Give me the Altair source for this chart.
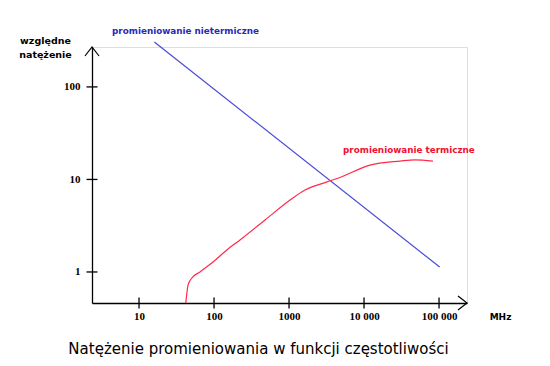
import altair as alt
import pandas as pd

# Data (log-log chart)
nonthermal_mhz = [16, 102000]
nonthermal_int = [306, 1.13]

thermal_mhz = [42, 45, 50, 65, 97, 148, 222, 479, 1032, 1634, 3210, 4790, 12000, 30200, 47900, 83000]
thermal_int = [0.46, 0.72, 0.85, 1.0, 1.28, 1.73, 2.22, 3.65, 6.0, 7.7, 9.4, 10.5, 14.3, 15.8, 16.3, 15.8]

x_ticks = [10, 100, 1000, 10000, 100000]
y_ticks = [1, 10, 100]

labels = ["promieniowanie nietermiczne", "promieniowanie termiczne"]
label_colors = ["#2a2ab4", "#f01030"]
label_mhz = [4.37, 5250]
label_int = [400, 20.8]

X_DOMAIN = [2.36, 236000]
Y_DOMAIN = [0.462, 270]

x_scale = alt.Scale(type="log", domain=X_DOMAIN, nice=False)
y_scale = alt.Scale(type="log", domain=Y_DOMAIN, nice=False)

x_axis = alt.Axis(
    values=x_ticks,
    labelExpr="datum.value >= 10000 ? replace(format(datum.value, ','), ',', ' ') : format(datum.value, 'd')",
    ticks=False, tickSize=0, grid=False,
    domainColor="black", domainWidth=1.3,
    labelFont="Liberation Serif", labelFontWeight="bold", labelFontSize=11,
    labelColor="black", labelPadding=7, labelFlush=False, labelOverlap=False,
    title="MHz", titleFont="DejaVu Sans", titleFontWeight="bold", titleFontSize=9,
    titleColor="black", titleX=408, titleY=13, titleAlign="center", titleBaseline="middle",
)
y_axis = alt.Axis(
    values=y_ticks,
    format="d",
    ticks=False, tickSize=0, grid=False,
    domainColor="black", domainWidth=1.3,
    labelFont="Liberation Serif", labelFontWeight="bold", labelFontSize=11,
    labelColor="black", labelPadding=12, labelFlush=False, labelOverlap=False,
    title=["względne", "natężenie"], titleFont="DejaVu Sans", titleFontWeight="bold",
    titleFontSize=9.5, titleColor="black", titleAngle=0, titleX=-47, titleY=-4,
    titleAlign="center", titleBaseline="alphabetic", titleLineHeight=14,
)

X = lambda f: alt.X(f, type="quantitative", scale=x_scale, axis=x_axis)
Y = lambda f: alt.Y(f, type="quantitative", scale=y_scale, axis=y_axis)

df_non = pd.DataFrame({"mhz": nonthermal_mhz, "val": nonthermal_int})
df_th = pd.DataFrame({"mhz": thermal_mhz, "val": thermal_int})

line_non = alt.Chart(df_non).mark_line(color="#4a4ad8", strokeWidth=1.2).encode(x=X("mhz"), y=Y("val"))
line_th = alt.Chart(df_th).mark_line(color="#ff2a4a", strokeWidth=1.2, interpolate="monotone").encode(x=X("mhz"), y=Y("val"))

df_xt = pd.DataFrame({"mhz": x_ticks, "val": [Y_DOMAIN[0]] * len(x_ticks)})
df_yt = pd.DataFrame({"mhz": [X_DOMAIN[0]] * len(y_ticks), "val": y_ticks})
xt = alt.Chart(df_xt).mark_tick(orient="vertical", size=11, thickness=1.3, color="black", opacity=1).encode(x=X("mhz"), y=Y("val"))
yt = alt.Chart(df_yt).mark_tick(orient="horizontal", size=11, thickness=1.3, color="black", opacity=1).encode(x=X("mhz"), y=Y("val"))

df_arx = pd.DataFrame({"mhz": [X_DOMAIN[1]], "val": [Y_DOMAIN[0]]})
df_ary = pd.DataFrame({"mhz": [X_DOMAIN[0]], "val": [Y_DOMAIN[1]]})
arrow_x = alt.Chart(df_arx).mark_point(shape="M -1 -0.78 L 0 0 L -1 0.78", size=324, filled=False,
                                       color="black", strokeWidth=1.2, opacity=1).encode(x=X("mhz"), y=Y("val"))
arrow_y = alt.Chart(df_ary).mark_point(shape="M -0.78 1 L 0 0 L 0.78 1", size=324, filled=False,
                                       color="black", strokeWidth=1.2, opacity=1).encode(x=X("mhz"), y=Y("val"))

df_lab = pd.DataFrame({"label": labels, "color": label_colors, "mhz": label_mhz, "val": label_int})
texts = alt.Chart(df_lab).mark_text(align="left", baseline="middle", font="DejaVu Sans",
                                    fontWeight="bold", fontSize=8.8).encode(
    x=X("mhz"), y=Y("val"), text="label:N", color=alt.Color("color:N", scale=None))

chart = alt.layer(line_non, line_th, xt, yt, arrow_x, arrow_y, texts).properties(
    width=375, height=256,
    autosize=alt.AutoSizeParams(type="none"),
    padding={"left": 84, "top": 39, "right": 75, "bottom": 55},
    title=alt.TitleParams("Natężenie promieniowania w funkcji częstotliwości", orient="bottom",
                          font="DejaVu Sans", fontSize=15, fontWeight="normal", color="black",
                          anchor="middle", dx=-21, offset=21),
).configure_view(stroke=None).configure(background="white")

chart.save("out.html", embed_options={"renderer": "svg", "actions": False})
